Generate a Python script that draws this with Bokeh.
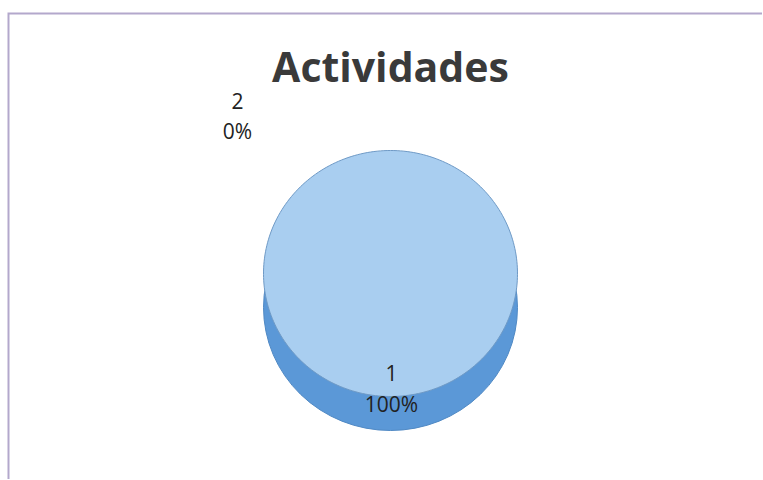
import numpy as np
from bokeh.plotting import figure
from bokeh.models import Range1d, ColumnDataSource, BoxAnnotation
from bokeh.core.properties import value
from bokeh.embed import file_html
from bokeh.resources import INLINE

# ---- data ----
title_text = "Actividades"
categories = ["1", "2"]
values = [100, 0]

# ---- layout (pixels) ----
W, H = 762, 479
LEFT, TOP = 7, 12
FW, FH = W - LEFT, H - TOP

def px(x):  # page x -> data x
    return x - LEFT

def py(y):  # page y -> data y
    return H - y

p = figure(width=W, height=H, output_backend="svg", toolbar_location=None,
           x_range=Range1d(0, FW), y_range=Range1d(0, FH),
           min_border_left=LEFT, min_border_right=0, min_border_top=TOP, min_border_bottom=0)
p.axis.visible = False
p.grid.visible = False
p.background_fill_color = "white"
p.border_fill_color = "white"
p.outline_line_color = None

# chart-area border: only left and top visible (right/bottom run off the page)
p.add_layout(BoxAnnotation(left=0, right=FW + 20, bottom=-20, top=FH,
                           fill_color=None, fill_alpha=0,
                           line_color="#B3A8CC", line_alpha=1.0, line_width=4))

# pie geometry
cx, cy = px(390), py(273)
rw, rh = 127, 123
depth = 34

total = float(sum(values))
fracs = [v / total for v in values]
starts = np.concatenate([[0], np.cumsum(fracs)[:-1]])

# side (depth) of the pie
p.ellipse(x=[cx], y=[cy - depth], width=[2 * rw], height=[2 * rh],
          fill_color="#5B98D7", line_color="#5089C4", line_width=1)

# top face slices
face_colors = ["#A9CEF0", "#C0504D"]
xs, ys, cols = [], [], []
for f, s, c in zip(fracs, starts, face_colors):
    if f <= 0:
        continue
    t = np.linspace(s, s + f, 240) * 2 * np.pi
    ex = cx + rw * np.sin(t)
    ey = cy + rh * np.cos(t)
    if f < 1:
        ex = np.concatenate([[cx], ex])
        ey = np.concatenate([[cy], ey])
    xs.append(list(ex)); ys.append(list(ey)); cols.append(c)
p.patches(xs=xs, ys=ys, fill_color=cols, line_color="#6F9AC6", line_width=1)

# labels
label_pos = {"1": (px(391), py(372), py(403)), "2": (px(237), py(100), py(130))}
pct = [f"{round(fr * 100)}%" for fr in fracs]
lx, ly1, ly2, t1, t2 = [], [], [], [], []
for cat, pc in zip(categories, pct):
    x, y1, y2 = label_pos[cat]
    lx.append(x); ly1.append(y1); ly2.append(y2); t1.append(cat); t2.append(pc)
src = ColumnDataSource(dict(x=lx, y1=ly1, y2=ly2, t1=t1, t2=t2))
for ycol, tcol in (("y1", "t1"), ("y2", "t2")):
    p.text(x="x", y=ycol, text=tcol, source=src, text_font=value("Open Sans"),
           text_font_size="21px", text_color="#222222",
           text_align="center", text_baseline="middle")

# title
p.text(x=[px(390)], y=[py(65)], text=[title_text], text_font=value("Open Sans"),
       text_font_size="41px", text_font_style="bold", text_color="#3A3A3A",
       text_align="center", text_baseline="middle")

open("out.html", "w").write(file_html(p, INLINE))
